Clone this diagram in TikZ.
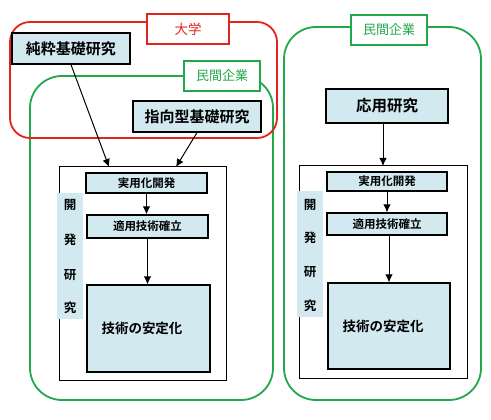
\documentclass[tikz,border=0pt]{standalone}
\usepackage{fontspec}
\setmainfont{Noto Sans CJK JP}[BoldFont=* Bold]
\usetikzlibrary{arrows.meta}
\definecolor{lblue}{HTML}{D2E9F0}
\definecolor{ured}{HTML}{E3241E}
\definecolor{cgreen}{HTML}{22A84A}
\tikzset{
  bluebox/.style={draw=black, line width=1.3pt, fill=lblue, inner sep=0pt, font=\bfseries},
  frame/.style={draw=black, line width=1pt},
  redgroup/.style={draw=ured, line width=1.8pt, rounded corners=20pt},
  greengroup/.style={draw=cgreen, line width=1.8pt, rounded corners=32pt},
  redlabel/.style={draw=ured, line width=1.5pt, fill=white, text=ured, inner sep=0pt},
  greenlabel/.style={draw=cgreen, line width=1.5pt, fill=white, text=cgreen, inner sep=0pt},
  strip/.style={fill=lblue, inner sep=0pt},
  arr/.style={-{Latex[length=8pt,width=7.5pt]}, line width=1pt},
  smalltxt/.style={font=\bfseries\fontsize{11.5}{11.5}\selectfont},
  vtxt/.style={font=\bfseries\fontsize{12.5}{12.5}\selectfont},
}
\begin{document}
\begin{tikzpicture}[x=1pt,y=-1pt]
\useasboundingbox (0,0) rectangle (491,420);
% left green group
\draw[greengroup] (30,76) rectangle (273,400);
% red group
\draw[redgroup] (10,22) rectangle (277,138);
\node[redlabel, minimum width=82pt, minimum height=30pt, font=\fontsize{13.5}{13.5}\selectfont] (daigaku) at (188,29) {大学};
\node[greenlabel, minimum width=76pt, minimum height=30pt, font=\fontsize{13}{13}\selectfont] (minkanL) at (222,76) {民間企業};
% right green group
\draw[greengroup] (284,27) rectangle (481,400);
\node[greenlabel, minimum width=76pt, minimum height=30pt, font=\fontsize{13}{13}\selectfont] (minkanR) at (389,30) {民間企業};

% left column
\node[bluebox, minimum width=118pt, minimum height=31pt, font=\bfseries\fontsize{15}{15}\selectfont] (junsui) at (71,48.5) {純粋基礎研究};
\node[bluebox, minimum width=128pt, minimum height=31pt, font=\bfseries\fontsize{15}{15}\selectfont] (shiko) at (197,116.5) {指向型基礎研究};
\draw[frame] (59,167) rectangle (226,380);
\coordinate (inL1) at (109,167);
\coordinate (inL2) at (176,167);
\node[strip, minimum width=26pt, minimum height=126pt] (stripL) at (70,256) {};
\foreach \c/\y in {開/205,発/240,研/275,究/308}
  \node[vtxt] at (70,\y) {\c};
\node[bluebox, minimum width=121pt, minimum height=20pt, smalltxt] (jitsuL) at (146.5,183) {実用化開発};
\node[bluebox, minimum width=121pt, minimum height=23pt, smalltxt] (tekiL) at (147.5,226.5) {適用技術確立};
\node[bluebox, minimum width=123pt, minimum height=87pt] (anteiL) at (148.5,328.5) {};
\node[font=\bfseries\fontsize{13.5}{13.5}\selectfont] at (142,328) {技術の安定化};
\draw[arr] (junsui.south -| 71,0) -- (inL1);
\draw[arr] (shiko.south) -- (inL2);
\draw[arr] (jitsuL.south) -- (tekiL.north -| jitsuL.south);
\draw[arr] (tekiL.south) -- (anteiL.north -| tekiL.south);

% right column
\node[bluebox, minimum width=122pt, minimum height=34pt, font=\bfseries\fontsize{15.5}{15.5}\selectfont] (oyo) at (387,106) {応用研究};
\draw[frame] (299,166) rectangle (467,378);
\coordinate (inR) at (383,166);
\node[strip, minimum width=26pt, minimum height=126pt] (stripR) at (310,254) {};
\foreach \c/\y in {開/205,発/238,研/272,究/306}
  \node[vtxt] at (310,\y) {\c};
\node[bluebox, minimum width=120pt, minimum height=19pt, smalltxt] (jitsuR) at (387,181.5) {実用化開発};
\node[bluebox, minimum width=120pt, minimum height=22pt, smalltxt] (tekiR) at (387,224) {適用技術確立};
\node[bluebox, minimum width=122pt, minimum height=86pt] (anteiR) at (389,326) {};
\node[font=\bfseries\fontsize{13.5}{13.5}\selectfont] at (383,326) {技術の安定化};
\draw[arr] (oyo.south -| inR) -- (inR);
\draw[arr] (jitsuR.south) -- (tekiR.north -| jitsuR.south);
\draw[arr] (tekiR.south -| 389,0) -- (anteiR.north -| 389,0);
\end{tikzpicture}
\end{document}
